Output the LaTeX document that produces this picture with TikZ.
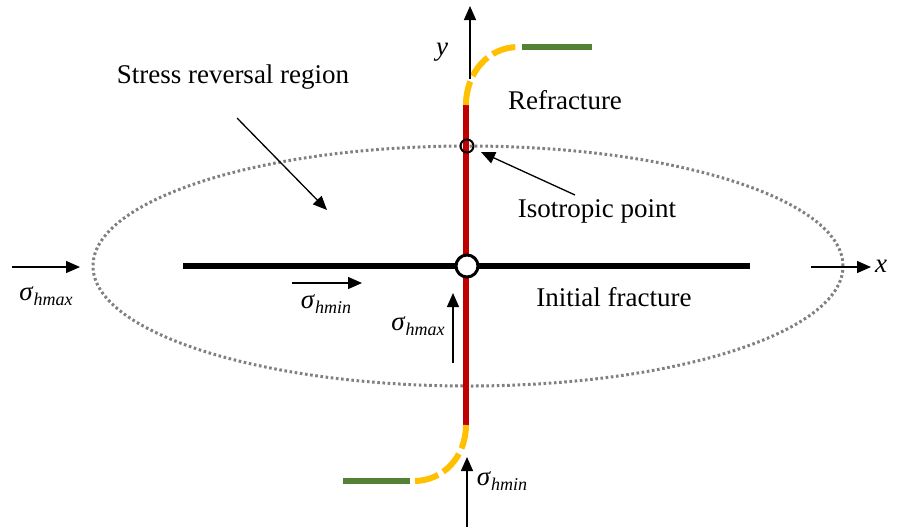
\documentclass[tikz,border=0pt]{standalone}
\usepackage{fontspec}
\setmainfont{Liberation Serif}
\newfontfamily\tnr{Liberation Serif}
\usetikzlibrary{arrows.meta,positioning,shapes.geometric}
\definecolor{fracred}{RGB}{192,0,0}
\definecolor{fracyellow}{RGB}{255,192,0}
\definecolor{fracgreen}{RGB}{84,130,53}
\definecolor{dotgray}{RGB}{128,128,128}
\newcommand{\sig}[1]{\textit{σ}\raisebox{-2.5pt}{\fontsize{9}{10}\selectfont\itshape #1}}
\tikzset{
  txt/.style={font=\tnr\fontsize{13.5}{16}\selectfont, inner sep=0pt},
  arrow/.style={-{Triangle[length=7pt,width=6pt]}, line width=0.65pt},
  initfrac/.style={line width=3pt, black},
  refrac/.style={line width=2.6pt, fracred},
  turn/.style={line width=3pt, fracyellow, dash pattern=on 12pt off 3pt},
  straight/.style={line width=3pt, fracgreen},
  region/.style={dotgray, line width=1.5pt, dash pattern=on 1.3pt off 1.3pt}
}
\begin{document}
\begin{tikzpicture}[x=0.5pt, y=-0.5pt]
  \useasboundingbox (0,0) rectangle (906,527);
  % stress reversal region
  \node[draw, region, ellipse, minimum width=375pt, minimum height=120pt, inner sep=0pt] (reg) at (468,266) {};
  % fracture geometry
  \coordinate (ifl) at (183,266);
  \coordinate (ifr) at (750,266);
  \coordinate (rtop) at (466,105);
  \coordinate (rbot) at (466,425);
  \coordinate (ttop) at (518,47);
  \coordinate (tbot) at (414,481);
  \coordinate (gtop) at (592,47);
  \coordinate (gbot) at (343,481);
  \draw[initfrac] (ifl) -- (ifr);
  \draw[refrac] (rtop) -- (rbot);
  \draw[turn] (rtop) .. controls (466,72) and (489,47) .. (ttop);
  \draw[turn] (rbot) .. controls (466,457) and (443,481) .. (tbot);
  \draw[straight] ([xshift=2pt]ttop) -- (gtop);
  \draw[straight] ([xshift=-2pt]tbot) -- (gbot);
  \node[draw, circle, line width=1.5pt, fill=white, minimum size=11pt, inner sep=0pt] (origin) at (467,266) {};
  \node[draw, circle, line width=1pt, minimum size=6.5pt, inner sep=0pt] (iso) at (467,146) {};
  % axes
  \coordinate (ybase) at (470,79);
  \coordinate (ytip) at (470,6);
  \coordinate (xbase) at (811,267);
  \coordinate (xtip) at (871,267);
  \draw[arrow] (ybase) -- (ytip);
  \draw[arrow] (xbase) -- (xtip);
  \node[txt, font=\tnr\fontsize{13.5}{16}\selectfont\itshape] (ylab) at (442,52) {y};
  \node[txt, font=\tnr\fontsize{13.5}{16}\selectfont\itshape] (xlab) at (881,266) {x};
  % stresses
  \coordinate (lefta) at (12,267);
  \coordinate (leftb) at (80,267);
  \coordinate (ina) at (292,283);
  \coordinate (inb) at (362,283);
  \coordinate (upa) at (453,363);
  \coordinate (upb) at (453,293);
  \coordinate (bota) at (467,527);
  \coordinate (botb) at (467,457);
  \draw[arrow] (lefta) -- (leftb);
  \draw[arrow] (ina) -- (inb);
  \draw[arrow] (upa) -- (upb);
  \draw[arrow] (bota) -- (botb);
  \node[txt] (sl) at (46,296) {\sig{hmax}};
  \node[txt] (si) at (326,304) {\sig{hmin}};
  \node[txt] (su) at (418,326) {\sig{hmax}};
  \node[txt] (sb) at (502,481) {\sig{hmin}};
  % labels
  \node[txt] (srr) at (233,77) {Stress reversal region};
  \node[txt] (rf) at (565,100) {Refracture};
  \node[txt] (ip) at (597,211) {Isotropic point};
  \node[txt] (inf) at (614,297) {Initial fracture};
  \coordinate (srra) at (237,118);
  \coordinate (srrb) at (327,210);
  \coordinate (ipa) at (575,195);
  \coordinate (ipb) at (481,152);
  \draw[arrow] (srra) -- (srrb);
  \draw[arrow] (ipa) -- (ipb);
\end{tikzpicture}
\end{document}
